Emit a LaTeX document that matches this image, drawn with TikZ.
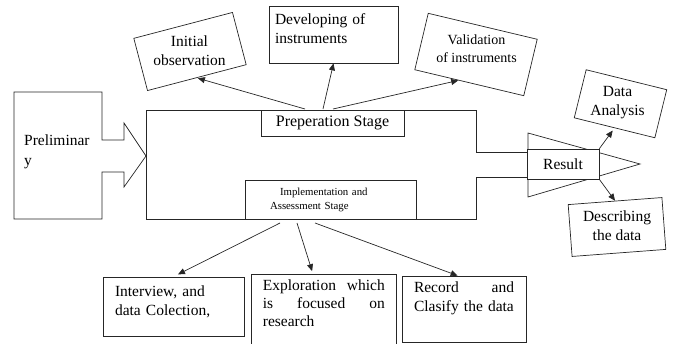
\documentclass[tikz,border=0pt]{standalone}
\usepackage{fontspec}
\setmainfont{Liberation Serif}
\usetikzlibrary{arrows.meta,calc}
\begin{document}
\begin{tikzpicture}[x=1pt,y=-1pt,
  ln/.style={line width=0.7pt, draw=black!85},
  arr/.style={ln, -{Triangle[length=7pt,width=6pt]}},
  bx/.style={rectangle, draw=black!85, line width=0.7pt, fill=white, inner sep=0pt},
  tf/.style={font=\fontsize{15.5}{19}\selectfont},
  lbl/.style={tf, inner sep=0pt, align=center},
]
\useasboundingbox (0,0) rectangle (675,343);
\clip (0,0) rectangle (675,343);

% Preliminary block arrow
\draw[ln] (102,140) -- (102,92) -- (14,92) -- (14,219) -- (102,219) -- (102,172)
  -- (124,172) -- (124,187) -- (146,156) -- (124,123) -- (124,140) -- cycle;
\node[tf, font=\fontsize{15.5}{20}\selectfont, align=left, anchor=west, inner sep=0pt] (prelim) at (24,151.5) {Preliminar\\y};

% Main stage outline
\draw[ln] (528,152) -- (476,152) -- (476,110) -- (146,110) -- (146,219) -- (476,219) -- (476,177) -- (528,177);

% Result arrow head and box
\draw[ln] (528,133) -- (640,164) -- (528,197) -- cycle;
\node[bx, tf, minimum width=72pt, minimum height=30pt] (result) at (563,164) {Result};

% Stage boxes
\node[bx, font=\fontsize{16}{19}\selectfont, minimum width=143pt, minimum height=26pt] (prep) at (332.5,123) {Preperation Stage};
\node[bx, font=\fontsize{10.8}{14}\selectfont, minimum width=171pt, minimum height=39pt, text width=121pt, align=left] (impl) at (330.5,199.5) {\hspace*{10pt}Implementation and\\Assessment Stage};

% Top boxes (tilted frames, upright text)
\node[bx, rotate=14.7, minimum width=102pt, minimum height=54pt] (obsbox) at (190,51.5) {};
\node[lbl] (obs) at (189.5,51) {Initial\\observation};
\node[bx, tf, minimum width=129pt, minimum height=57pt, text width=117pt, align=left] (dev) at (333.5,34.5) {Developing of\\instruments\rule[-11pt]{0pt}{0pt}};
\node[bx, rotate=-13.4, minimum width=112pt, minimum height=58pt] (valbox) at (476,54.5) {};
\node[lbl, font=\fontsize{14}{18}\selectfont] (val) at (476.5,49) {Validation\\of instruments};

% Right boxes
\node[bx, rotate=-13.9, minimum width=83pt, minimum height=49.5pt] (dabox) at (620.5,103.75) {};
\node[lbl] (da) at (617.5,103) {Data\\Analysis};
\node[bx, rotate=4.3, minimum width=94pt, minimum height=52pt] (descbox) at (617,227) {};
\node[lbl] (desc) at (617,225.5) {Describing\\the data};

% Bottom boxes
\node[bx, tf, minimum width=141pt, minimum height=59pt, text width=117pt, align=left] (int) at (173.5,306.5) {Interview, and\\data Colection,\rule[-12pt]{0pt}{0pt}};
\node[bx, font=\fontsize{15.5}{18}\selectfont, anchor=north west, minimum width=145pt, text width=122pt, inner ysep=5pt, align=left] (expl) at (251,274)
  {\makebox[122pt][s]{Exploration\hfill which}\\\makebox[122pt][s]{is\hfill focused\hfill on}\\research\rule[-50pt]{0pt}{0pt}};
\node[bx, tf, minimum width=124pt, minimum height=66pt, text width=100pt, align=left] (rec) at (464,309)
  {\makebox[100pt][s]{Record\hfill and}\\Clasify the data\rule[-24pt]{0pt}{0pt}};

% Arrow start points
\coordinate (s1) at (305,109);
\coordinate (s2) at (323,109);
\coordinate (s3) at (333,109);
\coordinate (s4) at (280,223);
\coordinate (s5) at (297,223);
\coordinate (s6) at (315,223);

% Arrows
\draw[arr, shorten >=1pt] (s1) -- (obsbox.south);
\draw[arr] (s2) -- (dev.south);
\draw[arr] (s3) -- ($(valbox.south)!0.2!(valbox.south west)$);
\draw[arr, shorten >=3pt] (result.north east) -- (dabox.south);
\draw[arr] (result.south east) -- (descbox.north);
\draw[arr, shorten >=5pt] (s4) -- (int.north);
\draw[arr, shorten >=3pt] (s5) -- ($(expl.north west)+(62,0)$);
\draw[arr] (s6) -- ($(rec.north west)+(56,0)$);
\end{tikzpicture}
\end{document}
